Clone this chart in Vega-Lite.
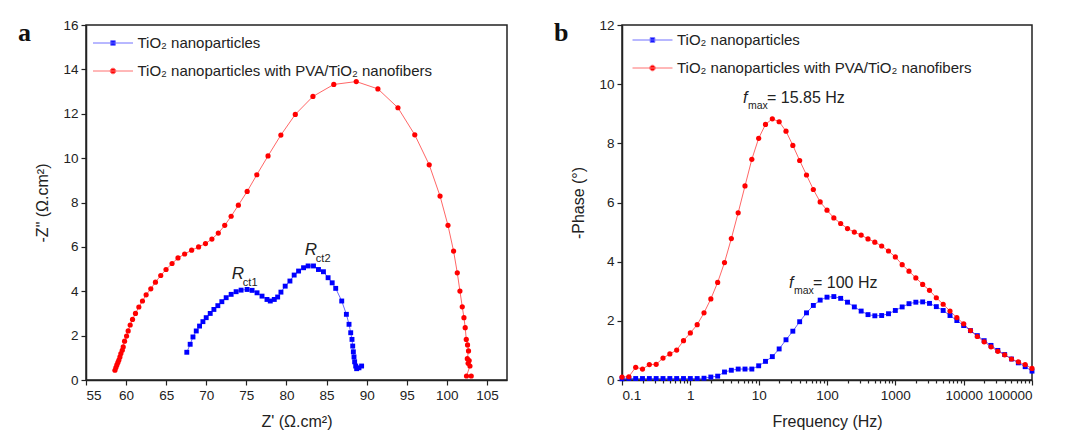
{
  "$schema": "https://vega.github.io/schema/vega-lite/v6.json",
  "background": "white",
  "padding": {"left": 17, "top": 17, "right": 0, "bottom": 0},
  "autosize": {"type": "pad"},
  "config": {
    "view": {"stroke": "#222", "strokeWidth": 1.5},
    "axis": {"domainColor": "#222", "domainWidth": 1.5, "tickColor": "#222", "tickWidth": 1.2, "labelFont": "Liberation Sans", "labelFontSize": 13.5, "labelColor": "#222", "titleFont": "Liberation Sans", "titleFontSize": 16, "titleFontWeight": "normal", "titleColor": "#222", "grid": false, "labelPadding": 3, "labelOverlap": false},
    "legend": {"labelFont": "Liberation Sans", "labelFontSize": 15, "labelColor": "#222", "labelLimit": 500}
  },
  "datasets": {
    "nyq": [
      {"s":"nf","i":0,"x":58.61,"y":0.44},{"s":"nf","i":1,"x":58.73,"y":0.56},{"s":"nf","i":2,"x":58.85,"y":0.68},{"s":"nf","i":3,"x":58.98,"y":0.79},{"s":"nf","i":4,"x":59.10,"y":0.90},{"s":"nf","i":5,"x":59.23,"y":1.04},{"s":"nf","i":6,"x":59.35,"y":1.19},{"s":"nf","i":7,"x":59.52,"y":1.34},{"s":"nf","i":8,"x":59.64,"y":1.49},{"s":"nf","i":9,"x":59.81,"y":1.75},{"s":"nf","i":10,"x":60.06,"y":1.98},{"s":"nf","i":11,"x":60.26,"y":2.21},{"s":"nf","i":12,"x":60.51,"y":2.48},{"s":"nf","i":13,"x":60.80,"y":2.73},{"s":"nf","i":14,"x":61.17,"y":3.00},{"s":"nf","i":15,"x":61.59,"y":3.29},{"s":"nf","i":16,"x":62.04,"y":3.56},{"s":"nf","i":17,"x":62.50,"y":3.84},{"s":"nf","i":18,"x":63.08,"y":4.11},{"s":"nf","i":19,"x":63.66,"y":4.41},{"s":"nf","i":20,"x":64.32,"y":4.71},{"s":"nf","i":21,"x":64.98,"y":4.98},{"s":"nf","i":22,"x":65.73,"y":5.25},{"s":"nf","i":23,"x":66.47,"y":5.50},{"s":"nf","i":24,"x":67.30,"y":5.68},{"s":"nf","i":25,"x":68.17,"y":5.85},{"s":"nf","i":26,"x":69.04,"y":6.00},{"s":"nf","i":27,"x":69.90,"y":6.15},{"s":"nf","i":28,"x":70.70,"y":6.35},{"s":"nf","i":29,"x":71.50,"y":6.62},{"s":"nf","i":30,"x":72.30,"y":6.97},{"s":"nf","i":31,"x":73.10,"y":7.38},{"s":"nf","i":32,"x":74.00,"y":7.88},{"s":"nf","i":33,"x":75.10,"y":8.50},{"s":"nf","i":34,"x":76.30,"y":9.25},{"s":"nf","i":35,"x":77.70,"y":10.10},{"s":"nf","i":36,"x":79.30,"y":11.04},{"s":"nf","i":37,"x":81.10,"y":11.97},{"s":"nf","i":38,"x":83.30,"y":12.78},{"s":"nf","i":39,"x":85.90,"y":13.32},{"s":"nf","i":40,"x":88.70,"y":13.45},{"s":"nf","i":41,"x":91.40,"y":13.12},{"s":"nf","i":42,"x":93.90,"y":12.27},{"s":"nf","i":43,"x":96.00,"y":11.05},{"s":"nf","i":44,"x":97.80,"y":9.70},{"s":"nf","i":45,"x":99.15,"y":8.29},{"s":"nf","i":46,"x":100.14,"y":6.97},{"s":"nf","i":47,"x":100.84,"y":5.81},{"s":"nf","i":48,"x":101.30,"y":4.83},{"s":"nf","i":49,"x":101.63,"y":4.01},{"s":"nf","i":50,"x":101.92,"y":3.30},{"s":"nf","i":51,"x":102.13,"y":2.81},{"s":"nf","i":52,"x":102.29,"y":2.36},{"s":"nf","i":53,"x":102.42,"y":1.83},{"s":"nf","i":54,"x":102.58,"y":1.58},{"s":"nf","i":55,"x":102.70,"y":1.31},{"s":"nf","i":56,"x":102.55,"y":0.96},{"s":"nf","i":57,"x":102.78,"y":0.88},{"s":"nf","i":58,"x":102.65,"y":0.75},{"s":"nf","i":59,"x":102.88,"y":0.63},{"s":"nf","i":60,"x":102.45,"y":0.18},{"s":"nf","i":61,"x":103.04,"y":0.18},
      {"s":"np","i":0,"x":67.57,"y":1.25},{"s":"np","i":1,"x":67.99,"y":1.61},{"s":"np","i":2,"x":68.34,"y":1.94},{"s":"np","i":3,"x":68.75,"y":2.21},{"s":"np","i":4,"x":69.16,"y":2.43},{"s":"np","i":5,"x":69.58,"y":2.63},{"s":"np","i":6,"x":69.99,"y":2.81},{"s":"np","i":7,"x":70.49,"y":3.00},{"s":"np","i":8,"x":70.95,"y":3.18},{"s":"np","i":9,"x":71.44,"y":3.35},{"s":"np","i":10,"x":71.94,"y":3.53},{"s":"np","i":11,"x":72.48,"y":3.71},{"s":"np","i":12,"x":73.10,"y":3.86},{"s":"np","i":13,"x":73.72,"y":3.98},{"s":"np","i":14,"x":74.34,"y":4.05},{"s":"np","i":15,"x":75.09,"y":4.08},{"s":"np","i":16,"x":75.71,"y":4.04},{"s":"np","i":17,"x":76.33,"y":3.93},{"s":"np","i":18,"x":76.95,"y":3.78},{"s":"np","i":19,"x":77.57,"y":3.63},{"s":"np","i":20,"x":77.98,"y":3.56},{"s":"np","i":21,"x":78.48,"y":3.63},{"s":"np","i":22,"x":78.90,"y":3.74},{"s":"np","i":23,"x":79.31,"y":3.96},{"s":"np","i":24,"x":79.84,"y":4.23},{"s":"np","i":25,"x":80.43,"y":4.46},{"s":"np","i":26,"x":80.96,"y":4.73},{"s":"np","i":27,"x":81.51,"y":4.91},{"s":"np","i":28,"x":82.13,"y":5.06},{"s":"np","i":29,"x":82.70,"y":5.14},{"s":"np","i":30,"x":83.37,"y":5.14},{"s":"np","i":31,"x":83.99,"y":4.98},{"s":"np","i":32,"x":84.61,"y":4.88},{"s":"np","i":33,"x":85.19,"y":4.61},{"s":"np","i":34,"x":85.70,"y":4.38},{"s":"np","i":35,"x":86.14,"y":4.13},{"s":"np","i":36,"x":86.89,"y":3.56},{"s":"np","i":37,"x":87.47,"y":2.96},{"s":"np","i":38,"x":87.80,"y":2.51},{"s":"np","i":39,"x":88.01,"y":2.13},{"s":"np","i":40,"x":88.17,"y":1.83},{"s":"np","i":41,"x":88.26,"y":1.53},{"s":"np","i":42,"x":88.34,"y":1.27},{"s":"np","i":43,"x":88.42,"y":1.04},{"s":"np","i":44,"x":88.50,"y":0.82},{"s":"np","i":45,"x":88.63,"y":0.63},{"s":"np","i":46,"x":88.75,"y":0.51},{"s":"np","i":47,"x":89.04,"y":0.55},{"s":"np","i":48,"x":89.37,"y":0.63}
    ],
    "bode": [
      {"s":"nf","f":0.1,"p":0.10},{"s":"nf","f":0.1259,"p":0.11},{"s":"nf","f":0.1585,"p":0.43},{"s":"nf","f":0.1995,"p":0.37},{"s":"nf","f":0.2512,"p":0.52},{"s":"nf","f":0.3162,"p":0.53},{"s":"nf","f":0.3981,"p":0.74},{"s":"nf","f":0.5012,"p":0.88},{"s":"nf","f":0.631,"p":1.01},{"s":"nf","f":0.7943,"p":1.33},{"s":"nf","f":1,"p":1.59},{"s":"nf","f":1.259,"p":1.87},{"s":"nf","f":1.585,"p":2.27},{"s":"nf","f":1.995,"p":2.74},{"s":"nf","f":2.512,"p":3.30},{"s":"nf","f":3.162,"p":3.97},{"s":"nf","f":3.981,"p":4.78},{"s":"nf","f":5.012,"p":5.65},{"s":"nf","f":6.31,"p":6.56},{"s":"nf","f":7.943,"p":7.46},{"s":"nf","f":10,"p":8.17},{"s":"nf","f":12.59,"p":8.64},{"s":"nf","f":15.85,"p":8.83},{"s":"nf","f":19.95,"p":8.73},{"s":"nf","f":25.12,"p":8.41},{"s":"nf","f":31.62,"p":7.93},{"s":"nf","f":39.81,"p":7.42},{"s":"nf","f":50.12,"p":6.93},{"s":"nf","f":63.1,"p":6.44},{"s":"nf","f":79.43,"p":6.02},{"s":"nf","f":100,"p":5.74},{"s":"nf","f":125.9,"p":5.48},{"s":"nf","f":158.5,"p":5.29},{"s":"nf","f":199.5,"p":5.12},{"s":"nf","f":251.2,"p":5.00},{"s":"nf","f":316.2,"p":4.90},{"s":"nf","f":398.1,"p":4.77},{"s":"nf","f":501.2,"p":4.66},{"s":"nf","f":631,"p":4.53},{"s":"nf","f":794.3,"p":4.36},{"s":"nf","f":1000,"p":4.16},{"s":"nf","f":1259,"p":3.90},{"s":"nf","f":1585,"p":3.68},{"s":"nf","f":1995,"p":3.45},{"s":"nf","f":2512,"p":3.23},{"s":"nf","f":3162,"p":3.03},{"s":"nf","f":3981,"p":2.78},{"s":"nf","f":5012,"p":2.56},{"s":"nf","f":6310,"p":2.33},{"s":"nf","f":7943,"p":2.11},{"s":"nf","f":10000,"p":1.90},{"s":"nf","f":12589,"p":1.67},{"s":"nf","f":15849,"p":1.47},{"s":"nf","f":19953,"p":1.29},{"s":"nf","f":25119,"p":1.12},{"s":"nf","f":31623,"p":0.97},{"s":"nf","f":39811,"p":0.85},{"s":"nf","f":50119,"p":0.71},{"s":"nf","f":63096,"p":0.61},{"s":"nf","f":79433,"p":0.52},{"s":"nf","f":100000,"p":0.39},
      {"s":"np","f":0.1,"p":0.04},{"s":"np","f":0.1259,"p":0.05},{"s":"np","f":0.1585,"p":0.05},{"s":"np","f":0.1995,"p":0.05},{"s":"np","f":0.2512,"p":0.05},{"s":"np","f":0.3162,"p":0.05},{"s":"np","f":0.3981,"p":0.05},{"s":"np","f":0.5012,"p":0.05},{"s":"np","f":0.631,"p":0.05},{"s":"np","f":0.7943,"p":0.05},{"s":"np","f":1,"p":0.05},{"s":"np","f":1.259,"p":0.05},{"s":"np","f":1.585,"p":0.06},{"s":"np","f":1.995,"p":0.10},{"s":"np","f":2.512,"p":0.13},{"s":"np","f":3.162,"p":0.27},{"s":"np","f":3.981,"p":0.33},{"s":"np","f":5.012,"p":0.37},{"s":"np","f":6.31,"p":0.37},{"s":"np","f":7.943,"p":0.37},{"s":"np","f":10,"p":0.48},{"s":"np","f":12.59,"p":0.63},{"s":"np","f":15.85,"p":0.79},{"s":"np","f":19.95,"p":1.05},{"s":"np","f":25.12,"p":1.36},{"s":"np","f":31.62,"p":1.65},{"s":"np","f":39.81,"p":1.97},{"s":"np","f":50.12,"p":2.27},{"s":"np","f":63.1,"p":2.52},{"s":"np","f":79.43,"p":2.70},{"s":"np","f":100,"p":2.80},{"s":"np","f":125.9,"p":2.82},{"s":"np","f":158.5,"p":2.76},{"s":"np","f":199.5,"p":2.63},{"s":"np","f":251.2,"p":2.47},{"s":"np","f":316.2,"p":2.33},{"s":"np","f":398.1,"p":2.21},{"s":"np","f":501.2,"p":2.17},{"s":"np","f":631,"p":2.18},{"s":"np","f":794.3,"p":2.24},{"s":"np","f":1000,"p":2.35},{"s":"np","f":1259,"p":2.47},{"s":"np","f":1585,"p":2.58},{"s":"np","f":1995,"p":2.63},{"s":"np","f":2512,"p":2.64},{"s":"np","f":3162,"p":2.59},{"s":"np","f":3981,"p":2.48},{"s":"np","f":5012,"p":2.35},{"s":"np","f":6310,"p":2.18},{"s":"np","f":7943,"p":2.01},{"s":"np","f":10000,"p":1.84},{"s":"np","f":12589,"p":1.67},{"s":"np","f":15849,"p":1.50},{"s":"np","f":19953,"p":1.33},{"s":"np","f":25119,"p":1.17},{"s":"np","f":31623,"p":1.00},{"s":"np","f":39811,"p":0.86},{"s":"np","f":50119,"p":0.71},{"s":"np","f":63096,"p":0.58},{"s":"np","f":79433,"p":0.45},{"s":"np","f":100000,"p":0.30}
    ],
    "annA": [{"x":73.19,"y":4.55,"m":"R","sub":"ct1"},{"x":82.29,"y":5.65,"m":"R","sub":"ct2"}],
    "annB": [{"f":5.9,"p":9.36,"m":"f","sub":"max","rest":"= 15.85 Hz"},{"f":27.8,"p":3.11,"m":"f","sub":"max","rest":"= 100 Hz"}]
  },
  "spacing": 115,
  "bounds": "flush",
  "resolve": {"scale": {"stroke": "independent", "fill": "independent", "shape": "independent"}, "legend": {"stroke": "independent", "fill": "independent", "shape": "independent"}},
  "hconcat": [
    {
      "width": 421,
      "height": 355,
      "title": {"text": "a", "anchor": "start", "frame": "group", "orient": "top", "font": "Liberation Serif", "fontSize": 26, "fontWeight": "bold", "color": "#111", "dx": -68, "dy": 15, "offset": -34, "baseline": "alphabetic"},
      "layer": [
        {
          "data": {"name": "nyq"},
          "encoding": {
            "x": {"field": "x", "type": "quantitative", "scale": {"domain": [55, 107.5], "nice": false, "zero": false},
              "axis": {"title": "Z' (Ω.cm²)", "values": [55,57.5,60,62.5,65,67.5,70,72.5,75,77.5,80,82.5,85,87.5,90,92.5,95,97.5,100,102.5,105], "labelExpr": "datum.value % 5 === 0 ? datum.label : ''", "tickSize": {"condition": {"test": "datum.value % 5 === 0", "value": 5}, "value": 3}, "titlePadding": 12}},
            "y": {"field": "y", "type": "quantitative", "scale": {"domain": [0, 16], "nice": false},
              "axis": {"title": "-Z\" (Ω.cm²)", "values": [0,1,2,3,4,5,6,7,8,9,10,11,12,13,14,15,16], "labelExpr": "datum.value % 2 === 0 ? datum.label : ''", "tickSize": {"condition": {"test": "datum.value % 2 === 0", "value": 5}, "value": 3}, "titlePadding": 12}}
          },
          "layer": [
            {"transform": [{"filter": "datum.s === 'np'"}], "mark": {"type": "line", "strokeWidth": 1, "opacity": 0.6, "color": "#0000ff"}, "encoding": {"order": {"field": "i", "type": "quantitative"}}},
            {"transform": [{"filter": "datum.s === 'nf'"}], "mark": {"type": "line", "strokeWidth": 1, "opacity": 0.6, "color": "#ff0000"}, "encoding": {"order": {"field": "i", "type": "quantitative"}}},
            {"transform": [{"filter": "datum.s === 'np'"}], "mark": {"type": "point", "shape": "square", "filled": true, "size": 24, "opacity": 1, "color": "#0000ff"}},
            {"transform": [{"filter": "datum.s === 'nf'"}], "mark": {"type": "point", "shape": "circle", "filled": true, "size": 27, "opacity": 1, "color": "#ff0000"}},
            {"mark": {"type": "point", "filled": true, "opacity": 0, "size": 1},
             "encoding": {
              "stroke": {"field": "s", "type": "nominal", "scale": {"domain": ["np", "nf"], "range": ["#7070ff", "#ff7070"]},
                "legend": {"orient": "none", "legendX": 16.5, "legendY": 7.5, "title": null, "symbolSize": 400, "symbolOpacity": 1, "symbolStrokeWidth": 1, "labelOffset": 14, "rowPadding": 9, "padding": 0, "labelExpr": "datum.value === 'np' ? 'TiO₂ nanoparticles' : 'TiO₂ nanoparticles with PVA/TiO₂ nanofibers'"}},
              "fill": {"field": "s", "type": "nominal", "scale": {"domain": ["np", "nf"], "range": ["#0000ff", "#ff0000"]},
                "legend": {"orient": "none", "legendX": 16.5, "legendY": 7.5, "title": null, "symbolSize": 400, "symbolOpacity": 1, "symbolStrokeWidth": 1, "labelOffset": 14, "rowPadding": 9, "padding": 0, "labelExpr": "datum.value === 'np' ? 'TiO₂ nanoparticles' : 'TiO₂ nanoparticles with PVA/TiO₂ nanofibers'"}},
              "shape": {"field": "s", "type": "nominal", "scale": {"domain": ["np", "nf"], "range": ["M-2,0H2M-0.23,-0.23H0.23V0.23H-0.23Z", "M-2,0H2M-0.28,0A0.28,0.28 0 1,0 0.28,0A0.28,0.28 0 1,0 -0.28,0Z"]},
                "legend": {"orient": "none", "legendX": 16.5, "legendY": 7.5, "title": null, "symbolSize": 400, "symbolOpacity": 1, "symbolStrokeWidth": 1, "labelOffset": 14, "rowPadding": 9, "padding": 0, "labelExpr": "datum.value === 'np' ? 'TiO₂ nanoparticles' : 'TiO₂ nanoparticles with PVA/TiO₂ nanofibers'"}}
             }}
          ]
        },
        {
          "data": {"name": "annA"},
          "mark": {"type": "text", "font": "Liberation Sans", "fontStyle": "italic", "fontSize": 17, "align": "left", "baseline": "alphabetic", "color": "#222"},
          "encoding": {"x": {"field": "x", "type": "quantitative"}, "y": {"field": "y", "type": "quantitative"}, "text": {"field": "m"}}
        },
        {
          "data": {"name": "annA"},
          "mark": {"type": "text", "font": "Liberation Sans", "fontSize": 11, "align": "left", "baseline": "alphabetic", "color": "#222", "dx": 11, "dy": 7},
          "encoding": {"x": {"field": "x", "type": "quantitative"}, "y": {"field": "y", "type": "quantitative"}, "text": {"field": "sub"}}
        }
      ]
    },
    {
      "width": 410,
      "height": 355,
      "title": {"text": "b", "anchor": "start", "frame": "group", "orient": "top", "font": "Liberation Serif", "fontSize": 26, "fontWeight": "bold", "color": "#111", "dx": -68, "dy": 15, "offset": -34, "baseline": "alphabetic"},
      "layer": [
        {
          "data": {"name": "bode"},
          "encoding": {
            "x": {"field": "f", "type": "quantitative", "scale": {"type": "log", "domain": [0.1, 100000], "nice": false},
              "axis": {"title": "Frequency (Hz)", "values": [0.1,0.2,0.3,0.4,0.5,0.6,0.7,0.8,0.9,1,2,3,4,5,6,7,8,9,10,20,30,40,50,60,70,80,90,100,200,300,400,500,600,700,800,900,1000,2000,3000,4000,5000,6000,7000,8000,9000,10000,20000,30000,40000,50000,60000,70000,80000,90000,100000],
                "labelExpr": "abs(log(datum.value)/LN10 - round(log(datum.value)/LN10)) < 0.001 ? (datum.value + '') : ''",
                "tickSize": {"condition": {"test": "abs(log(datum.value)/LN10 - round(log(datum.value)/LN10)) < 0.001", "value": 5}, "value": 3}, "titlePadding": 12}},
            "y": {"field": "p", "type": "quantitative", "scale": {"domain": [0, 12], "nice": false},
              "axis": {"title": "-Phase (°)", "values": [0,1,2,3,4,5,6,7,8,9,10,11,12], "labelExpr": "datum.value % 2 === 0 ? datum.label : ''", "tickSize": {"condition": {"test": "datum.value % 2 === 0", "value": 5}, "value": 3}, "titlePadding": 12}}
          },
          "layer": [
            {"transform": [{"filter": "datum.s === 'np'"}], "mark": {"type": "line", "strokeWidth": 1, "opacity": 0.6, "color": "#0000ff"}},
            {"transform": [{"filter": "datum.s === 'nf'"}], "mark": {"type": "line", "strokeWidth": 1, "opacity": 0.6, "color": "#ff0000"}},
            {"transform": [{"filter": "datum.s === 'np'"}], "mark": {"type": "point", "shape": "square", "filled": true, "size": 24, "opacity": 1, "color": "#0000ff"}},
            {"transform": [{"filter": "datum.s === 'nf'"}], "mark": {"type": "point", "shape": "circle", "filled": true, "size": 27, "opacity": 1, "color": "#ff0000"}},
            {"mark": {"type": "point", "filled": true, "opacity": 0, "size": 1},
             "encoding": {
              "stroke": {"field": "s", "type": "nominal", "scale": {"domain": ["np", "nf"], "range": ["#7070ff", "#ff7070"]},
                "legend": {"orient": "none", "legendX": 20, "legendY": 4.5, "title": null, "symbolSize": 400, "symbolOpacity": 1, "symbolStrokeWidth": 1, "labelOffset": 14, "rowPadding": 9, "padding": 0, "labelExpr": "datum.value === 'np' ? 'TiO₂ nanoparticles' : 'TiO₂ nanoparticles with PVA/TiO₂ nanofibers'"}},
              "fill": {"field": "s", "type": "nominal", "scale": {"domain": ["np", "nf"], "range": ["#0000ff", "#ff0000"]},
                "legend": {"orient": "none", "legendX": 20, "legendY": 4.5, "title": null, "symbolSize": 400, "symbolOpacity": 1, "symbolStrokeWidth": 1, "labelOffset": 14, "rowPadding": 9, "padding": 0, "labelExpr": "datum.value === 'np' ? 'TiO₂ nanoparticles' : 'TiO₂ nanoparticles with PVA/TiO₂ nanofibers'"}},
              "shape": {"field": "s", "type": "nominal", "scale": {"domain": ["np", "nf"], "range": ["M-2,0H2M-0.23,-0.23H0.23V0.23H-0.23Z", "M-2,0H2M-0.28,0A0.28,0.28 0 1,0 0.28,0A0.28,0.28 0 1,0 -0.28,0Z"]},
                "legend": {"orient": "none", "legendX": 20, "legendY": 4.5, "title": null, "symbolSize": 400, "symbolOpacity": 1, "symbolStrokeWidth": 1, "labelOffset": 14, "rowPadding": 9, "padding": 0, "labelExpr": "datum.value === 'np' ? 'TiO₂ nanoparticles' : 'TiO₂ nanoparticles with PVA/TiO₂ nanofibers'"}}
             }}
          ]
        },
        {
          "data": {"name": "annB"},
          "mark": {"type": "text", "font": "Liberation Sans", "fontStyle": "italic", "fontSize": 16, "align": "left", "baseline": "alphabetic", "color": "#222"},
          "encoding": {"x": {"field": "f", "type": "quantitative"}, "y": {"field": "p", "type": "quantitative"}, "text": {"field": "m"}}
        },
        {
          "data": {"name": "annB"},
          "mark": {"type": "text", "font": "Liberation Sans", "fontSize": 10.5, "align": "left", "baseline": "alphabetic", "color": "#222", "dx": 5, "dy": 6},
          "encoding": {"x": {"field": "f", "type": "quantitative"}, "y": {"field": "p", "type": "quantitative"}, "text": {"field": "sub"}}
        },
        {
          "data": {"name": "annB"},
          "mark": {"type": "text", "font": "Liberation Sans", "fontSize": 16, "align": "left", "baseline": "alphabetic", "color": "#222", "dx": 24},
          "encoding": {"x": {"field": "f", "type": "quantitative"}, "y": {"field": "p", "type": "quantitative"}, "text": {"field": "rest"}}
        }
      ]
    }
  ]
}
